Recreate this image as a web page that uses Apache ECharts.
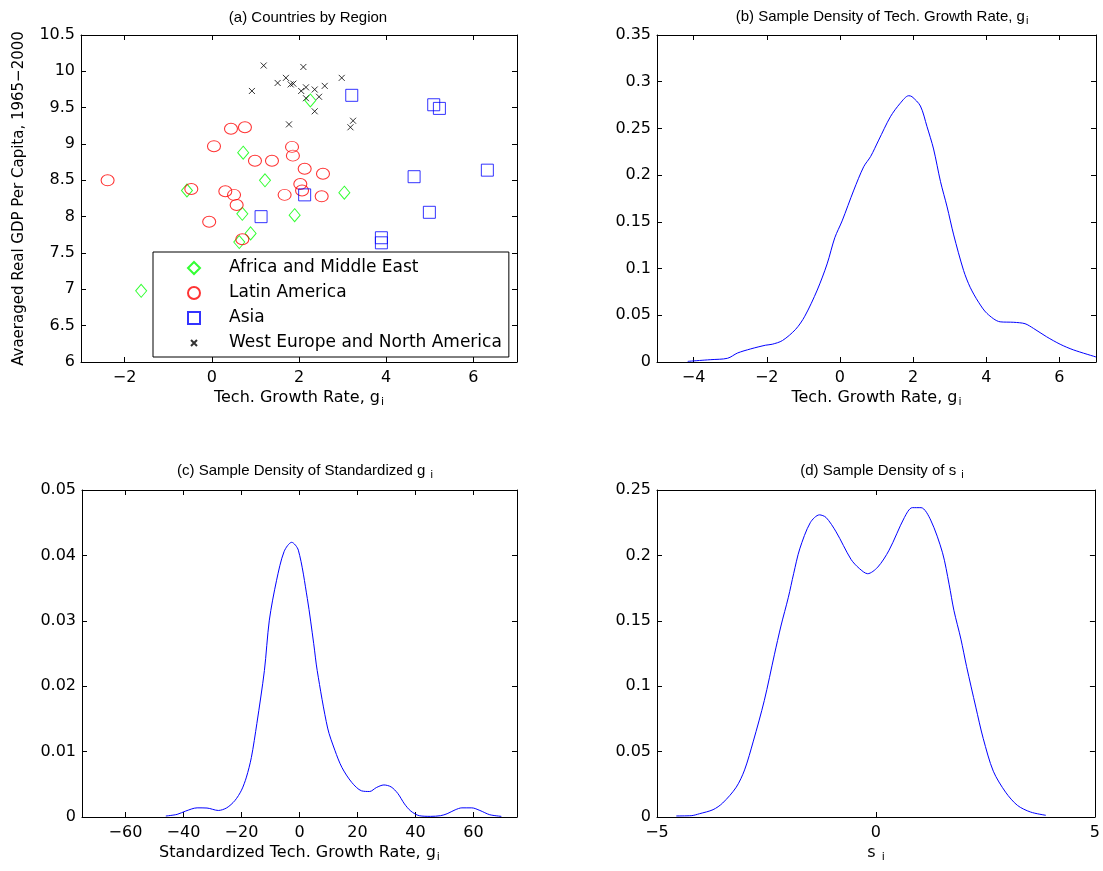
<!DOCTYPE html>
<html>
<head>
<meta charset="utf-8">
<script src="https://cdn.jsdelivr.net/npm/echarts@6/dist/echarts.min.js"></script>
<style>
html, body { margin: 0; padding: 0; background: #fff; }
#chart { width: 1103px; height: 871px; }
</style>
</head>
<body>
<div id="chart"></div>
<script>
// (a) countries by region: [growth rate g_i, avg log real GDP per capita]
var africa = [
  [-1.62, 6.98], [-0.57, 8.36], [0.72, 8.88], [1.22, 8.50], [0.70, 8.04],
  [1.90, 8.02], [3.04, 8.33], [0.89, 7.77], [0.63, 7.65], [2.26, 9.60]
];
var latinAmerica = [
  [0.44, 9.21], [0.76, 9.23], [0.05, 8.97], [0.99, 8.77], [1.38, 8.77],
  [1.84, 8.96], [1.86, 8.84], [2.13, 8.66], [2.55, 8.59], [-0.47, 8.38],
  [0.31, 8.35], [0.51, 8.30], [0.57, 8.16], [1.67, 8.30], [2.03, 8.45],
  [2.07, 8.36], [2.52, 8.28], [-0.06, 7.93], [0.70, 7.69], [-2.39, 8.50]
];
var asia = [
  [1.13, 8.00], [2.13, 8.30], [3.21, 9.67], [5.09, 9.54], [5.22, 9.49],
  [4.64, 8.55], [6.32, 8.64], [4.99, 8.06], [3.89, 7.71], [3.89, 7.64]
];
var westEurope = [
  [1.19, 10.08], [2.10, 10.06], [1.70, 9.91], [1.51, 9.84], [1.81, 9.82],
  [1.87, 9.83], [2.16, 9.78], [2.05, 9.73], [2.36, 9.75], [2.59, 9.80],
  [2.46, 9.65], [2.98, 9.91], [0.92, 9.73], [2.36, 9.45], [1.77, 9.27],
  [3.24, 9.32], [3.18, 9.23], [2.16, 9.63]
];

// (b) sample density of g_i
var densityG = [
  [-4.16, 0.0007], [-3.71, 0.002], [-3.53, 0.0025], [-3.07, 0.004], [-2.8, 0.0096],
  [-2.44, 0.014], [-2.03, 0.018], [-1.85, 0.019], [-1.57, 0.023], [-1.21, 0.035],
  [-0.96, 0.049], [-0.62, 0.077], [-0.35, 0.105], [-0.14, 0.133], [0.06, 0.151],
  [0.38, 0.184], [0.65, 0.209], [0.84, 0.220], [1.06, 0.2375], [1.38, 0.2625],
  [1.65, 0.277], [1.88, 0.285], [1.97, 0.284], [2.2, 0.274], [2.38, 0.252],
  [2.56, 0.228], [2.75, 0.193], [2.93, 0.166], [3.11, 0.136], [3.38, 0.098],
  [3.56, 0.080], [3.79, 0.064], [4.02, 0.052], [4.38, 0.043], [4.75, 0.0425],
  [5.06, 0.041], [5.29, 0.036], [5.65, 0.027], [6.02, 0.019], [6.38, 0.013],
  [7.0, 0.0054]
];

// (c) sample density of standardized g_i
var densityStd = [
  [-46.1, 0.00015], [-42.2, 0.0004], [-39.3, 0.0009], [-35.3, 0.0014], [-31.9, 0.00137],
  [-28.0, 0.001], [-25.1, 0.0014], [-22.3, 0.0025], [-20.0, 0.0041], [-18.3, 0.0061],
  [-16.6, 0.0091], [-14.7, 0.0143], [-12.1, 0.0224], [-10.4, 0.0301], [-7.9, 0.0362],
  [-5.3, 0.0406], [-2.7, 0.042], [-0.4, 0.0408], [2.7, 0.0334], [4.9, 0.0265],
  [6.1, 0.0224], [9.7, 0.0136], [12.2, 0.0102], [14.6, 0.0076], [18.0, 0.0053],
  [21.4, 0.004], [24.2, 0.0039], [26.5, 0.0045], [29.1, 0.0049], [31.6, 0.0046],
  [33.9, 0.0036], [36.2, 0.002], [38.4, 0.0009], [41.3, 0.0002], [45.2, 0.0001],
  [48.6, 0.0002], [50.9, 0.0005], [53.7, 0.0011], [56.0, 0.0014], [59.4, 0.0014],
  [62.2, 0.001], [65.6, 0.00035], [69.6, 0.0001]
];

// (d) sample density of s_i
var densityS = [
  [-4.56, 0.0008], [-4.22, 0.001], [-4.03, 0.0025], [-3.72, 0.0056], [-3.50, 0.0107],
  [-3.19, 0.0228], [-3.0, 0.036], [-2.80, 0.058], [-2.55, 0.089], [-2.32, 0.124],
  [-2.17, 0.146], [-2.0, 0.168], [-1.88, 0.186], [-1.74, 0.205], [-1.50, 0.225],
  [-1.29, 0.231], [-1.14, 0.229], [-0.91, 0.218], [-0.57, 0.197], [-0.38, 0.190],
  [-0.19, 0.186], [0.04, 0.191], [0.30, 0.204], [0.65, 0.229], [0.83, 0.2365],
  [1.03, 0.2365], [1.25, 0.227], [1.52, 0.202], [1.67, 0.178], [1.78, 0.158],
  [1.94, 0.136], [2.07, 0.115], [2.28, 0.084], [2.45, 0.060], [2.68, 0.035],
  [2.96, 0.019], [3.23, 0.0089], [3.53, 0.0038], [3.88, 0.0013]
];

var ticksA = [-2, 0, 2, 4, 6];
var ticksB = [-4, -2, 0, 2, 4, 6];
var ticksC = [-60, -40, -20, 0, 20, 40, 60];

var FONT = '"DejaVu Sans", "Liberation Sans", Arial, sans-serif';
var TFONT = '"Liberation Sans", Arial, Helvetica, sans-serif';

function minus(v) { return String(v).replace('-', '\u2212'); }

function subRich(size) {
  return {
    n: { fontFamily: FONT, fontSize: size, color: '#000' },
    s: { fontFamily: FONT, fontSize: size - 5, color: '#000', padding: [9, 0, 0, 1] }
  };
}

function xAxes(grid, min, max, ticks, interval, name) {
  var base = {
    type: 'value', gridIndex: grid, min: min, max: max,
    axisLine: { show: true, onZero: false, lineStyle: { color: '#000', width: 1 } },
    axisTick: { show: true, inside: true, length: 5, lineStyle: { color: '#000' } },
    splitLine: { show: false }
  };
  if (interval) base.interval = interval;
  if (ticks) base.axisTick.customValues = ticks;
  var bottom = echarts.util.merge({
    position: 'bottom',
    axisLabel: { show: true, fontFamily: FONT, fontSize: 16, color: '#000', margin: 8, formatter: minus },
    name: name, nameLocation: 'middle', nameGap: 26,
    nameTextStyle: { rich: subRich(16) }
  }, base, true);
  if (ticks) bottom.axisLabel.customValues = ticks;
  var top = echarts.util.merge({ position: 'top', axisLabel: { show: false } }, base, true);
  return [bottom, top];
}

function yAxes(grid, min, max, interval, name) {
  var base = {
    type: 'value', gridIndex: grid, min: min, max: max, interval: interval,
    axisLine: { show: true, onZero: false, lineStyle: { color: '#000', width: 1 } },
    axisTick: { show: true, inside: true, length: 5, lineStyle: { color: '#000' } },
    splitLine: { show: false }
  };
  var left = echarts.util.merge({
    position: 'left',
    axisLabel: { show: true, fontFamily: FONT, fontSize: 16, color: '#000', margin: 6 }
  }, base, true);
  if (name) {
    left.name = name;
    left.nameLocation = 'middle';
    left.nameGap = 54;
    left.nameTextStyle = { fontFamily: FONT, fontSize: 15, color: '#000' };
  }
  var right = echarts.util.merge({ position: 'right', axisLabel: { show: false } }, base, true);
  return [left, right];
}

function densityLine(data, idx) {
  return {
    type: 'line', data: data, xAxisIndex: idx, yAxisIndex: idx,
    showSymbol: false, smooth: 0.3,
    lineStyle: { color: '#0000ff', width: 1 }, itemStyle: { color: '#0000ff' }
  };
}

function regionSeries(name, data, symbol, size, color) {
  return {
    type: 'scatter', name: name, data: data, xAxisIndex: 0, yAxisIndex: 0,
    symbol: symbol, symbolSize: size, symbolKeepAspect: true,
    itemStyle: { color: 'rgba(0,0,0,0)', borderColor: color, borderWidth: 1 }
  };
}

var xa = xAxes(0, -3, 7, ticksA, null, '{n|Tech. Growth Rate, g}{s|i}');
var xb = xAxes(1, -5, 7, ticksB, null, '{n|Tech. Growth Rate, g}{s|i}');
var xc = xAxes(2, -75, 75, ticksC, null, '{n|Standardized Tech. Growth Rate, g}{s|i}');
var xd = xAxes(3, -5, 5, null, 5, '{n|s }{s|i}');
var ya = yAxes(0, 6, 10.5, 0.5, 'Avaeraged Real GDP Per Capita, 1965\u22122000');
var yb = yAxes(1, 0, 0.35, 0.05);
var yc = yAxes(2, 0, 0.05, 0.01);
var yd = yAxes(3, 0, 0.25, 0.05);

var titleStyle = function (text, x, y) {
  return {
    text: text, left: x, top: y, textAlign: 'center',
    textStyle: {
      fontFamily: TFONT, fontSize: 15, fontWeight: 'normal', color: '#000',
      rich: {
        n: { fontFamily: TFONT, fontSize: 15, color: '#000' },
        s: { fontFamily: TFONT, fontSize: 11, color: '#000', padding: [8, 0, 0, 1] }
      }
    }
  };
};

var chart = echarts.init(document.getElementById('chart'));
chart.setOption({
  animation: false,
  backgroundColor: '#fff',
  title: [
    titleStyle('{n|(a) Countries by Region}', 303, 5),
    titleStyle('{n|(b) Sample Density of Tech. Growth Rate, g}{s|i}', 877, 2),
    titleStyle('{n|(c) Sample Density of Standardized g }{s|i}', 300, 456),
    titleStyle('{n|(d) Sample Density of s }{s|i}', 877, 456)
  ],
  grid: [
    { left: 81, top: 35, width: 436, height: 327 },
    { left: 657, top: 35, width: 439, height: 327 },
    { left: 82, top: 490, width: 435, height: 327 },
    { left: 657, top: 490, width: 439, height: 327 }
  ],
  xAxis: [xa[0], xa[1], xb[0], xb[1], xc[0], xc[1], xd[0], xd[1]],
  yAxis: [ya[0], ya[1], yb[0], yb[1], yc[0], yc[1], yd[0], yd[1]],
  legend: {
    orient: 'vertical', left: 153, top: 252,
    padding: [7, 7, 5, 34], itemGap: 7, itemWidth: 12, itemHeight: 12,
    backgroundColor: '#fff', borderColor: '#000', borderWidth: 1, borderRadius: 0,
    textStyle: { fontFamily: FONT, fontSize: 17, color: '#000', lineHeight: 18, padding: [0, 0, 0, 24] },
    data: [
      'Africa and Middle East',
      'Latin America',
      'Asia',
      { name: 'West Europe and North America', icon: 'path://M0,0M12,12M3,3L9,9M3,9L9,3' }
    ]
  },
  series: [
    regionSeries('Africa and Middle East', africa, 'diamond', [11, 13], '#00ff00'),
    regionSeries('Latin America', latinAmerica, 'circle', [13, 11], '#ff0000'),
    regionSeries('Asia', asia, 'rect', [12, 12], '#0000ff'),
    regionSeries('West Europe and North America', westEurope, 'path://M0,0L10,10M0,10L10,0', 6, '#000000'),
    densityLine(densityG, 2),
    densityLine(densityStd, 4),
    densityLine(densityS, 6)
  ]
});
</script>
</body>
</html>
